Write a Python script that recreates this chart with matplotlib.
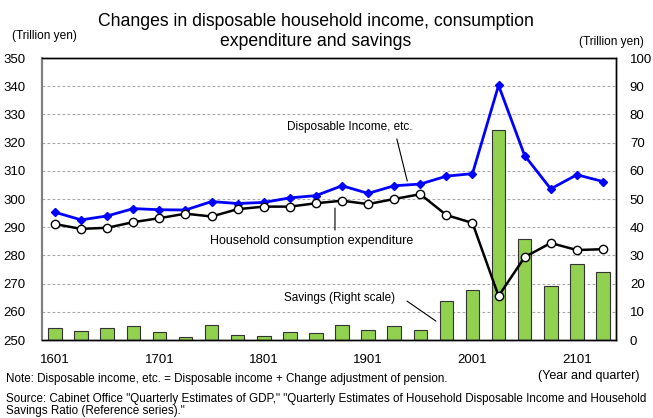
import matplotlib
matplotlib.use('Agg')
import matplotlib.pyplot as plt

plt.rcParams['font.family'] = ['Liberation Sans', 'DejaVu Sans']

quarters = ['1601', '1602', '1603', '1604', '1701', '1702', '1703', '1704',
            '1801', '1802', '1803', '1804', '1901', '1902', '1903', '1904',
            '2001', '2002', '2003', '2004', '2101', '2102']

# trillion yen, left scale
disposable = [295.3, 292.6, 294.0, 296.6, 296.2, 296.1, 299.1, 298.4,
              298.8, 300.4, 301.2, 304.7, 302.0, 304.7, 305.3, 308.1,
              309.0, 340.3, 315.4, 303.6, 308.6, 306.2]
consumption = [291.1, 289.4, 289.8, 291.8, 293.2, 294.8, 293.8, 296.4,
               297.3, 297.3, 298.5, 299.4, 298.2, 300.0, 301.7, 294.3,
               291.5, 265.6, 279.4, 284.4, 281.9, 282.2]
# trillion yen, right scale
savings = [4.3, 3.2, 4.1, 4.9, 3.0, 1.1, 5.2, 1.8, 1.3, 3.0, 2.6,
           5.3, 3.7, 4.9, 3.6, 13.9, 17.8, 74.6, 35.9, 19.1, 26.8, 24.1]

x = list(range(len(quarters)))

fig = plt.figure(figsize=(6.53, 4.18), dpi=100)
ax2 = fig.add_axes([0.0643, 0.1866, 0.8790, 0.6746])
ax = ax2.twinx()
ax.yaxis.tick_left()
ax2.yaxis.tick_right()
ax.set_zorder(ax2.get_zorder() + 1)
ax.patch.set_visible(False)

# savings bars on the right scale
ax2.bar(x, savings, width=0.52, color='#92D050', edgecolor='#333333', linewidth=0.8, zorder=2)
ax2.set_ylim(0, 100)
ax2.set_yticks(range(0, 101, 10))
for v in range(10, 100, 10):
    ax2.axhline(v, color='#A6A6A6', linestyle=(0, (2.5, 2)), linewidth=0.8, zorder=1)

ax.plot(x, disposable, color='#0000FF', linewidth=2.0, marker='D', markersize=4.5, zorder=4)
ax.plot(x, consumption, color='black', linewidth=1.8, marker='o', markersize=6,
        markerfacecolor='white', markeredgecolor='black', markeredgewidth=1.0, zorder=5)
ax.set_ylim(250, 350)
ax.set_yticks(range(250, 351, 10))
ax.set_xlim(-0.5, 21.5)

ax2.set_xticks([0, 4, 8, 12, 16, 20])
ax2.set_xticklabels(['1601', '1701', '1801', '1901', '2001', '2101'])
ax.tick_params(axis='y', length=0, pad=12, labelsize=9.5)
ax2.tick_params(axis='y', length=0, pad=10, labelsize=9.5)
ax2.tick_params(axis='x', length=0, pad=10, labelsize=9.5)

for a in (ax, ax2):
    for s in ('top', 'right', 'bottom'):
        a.spines[s].set_color('black')
        a.spines[s].set_linewidth(1.0)
    a.spines['left'].set_color('#808080')
    a.spines['left'].set_linewidth(1.5)

# leader labels
line_style = dict(arrowstyle='-', color='black', lw=0.8, shrinkA=0, shrinkB=0)
ax.text(11.3, 325.5, 'Disposable Income, etc.', fontsize=8.5, ha='center', va='center')
ax.annotate('', xy=(13.5, 306.4), xytext=(13.1, 321.3), arrowprops=line_style)
ax.text(9.83, 285.1, 'Household consumption expenditure', fontsize=9, ha='center', va='center')
ax.annotate('', xy=(10.73, 296.8), xytext=(10.73, 289.0), arrowprops=line_style)
ax.text(10.92, 264.9, 'Savings (Right scale)', fontsize=8.5, ha='center', va='center')
ax.annotate('', xy=(14.6, 256.7), xytext=(13.49, 263.8), arrowprops=line_style)

fig.text(316 / 653, 1 - 22 / 418, 'Changes in disposable household income, consumption',
         fontsize=12.7, ha='center', va='center')
fig.text(316 / 653, 1 - 42 / 418, 'expenditure and savings',
         fontsize=12.7, ha='center', va='center')
fig.text(12 / 653, 1 - 36 / 418, '(Trillion yen)', fontsize=8.6, ha='left', va='center')
fig.text(644 / 653, 1 - 42 / 418, '(Trillion yen)', fontsize=8.6, ha='right', va='center')
fig.text(639 / 653, 1 - 376 / 418, '(Year and quarter)', fontsize=9, ha='right', va='center')
fig.text(6 / 653, 1 - 379 / 418,
         'Note: Disposable income, etc. = Disposable income + Change adjustment of pension.',
         fontsize=8.4, ha='left', va='center')
fig.text(6 / 653, 1 - 399 / 418,
         'Source: Cabinet Office "Quarterly Estimates of GDP," "Quarterly Estimates of '
         'Household Disposable Income and Household', fontsize=8.4, ha='left', va='center')
fig.text(6 / 653, 1 - 411 / 418, 'Savings Ratio (Reference series)."',
         fontsize=8.4, ha='left', va='center')

fig.savefig('out.png', dpi=100)
